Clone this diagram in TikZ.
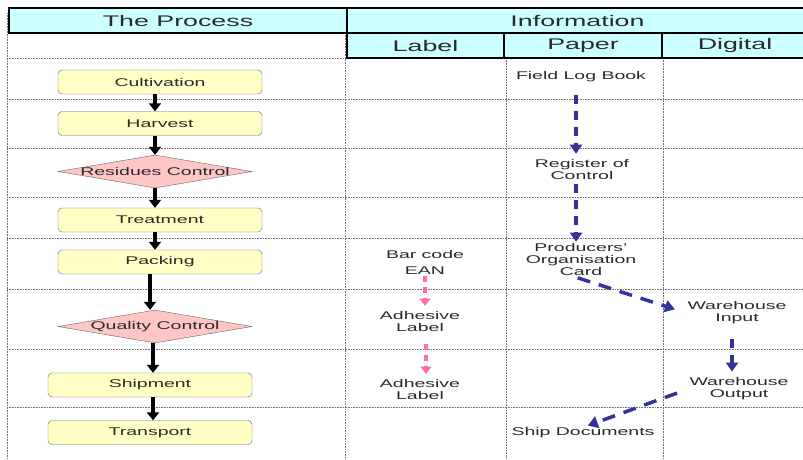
\documentclass[tikz,border=0pt]{standalone}
\usepackage{fontspec}
\setmainfont{Liberation Sans}[FakeStretch=1.74]
\usetikzlibrary{shapes.geometric,arrows.meta}
\definecolor{hdr}{HTML}{CCFFFF}
\definecolor{boxy}{HTML}{FFFFC6}
\definecolor{diap}{HTML}{FFC6C6}
\definecolor{navyarr}{HTML}{333399}
\definecolor{pinkarr}{HTML}{FF6F9F}
\definecolor{gridc}{HTML}{707070}
\definecolor{txt}{HTML}{2A2A2A}
\begin{document}
\begin{tikzpicture}[x=1pt,y=-1pt,
 hbox/.style={draw=black,line width=2pt,fill=hdr,inner sep=0,text=txt,font=\fontsize{15.4}{16}\selectfont},
 proc/.style={draw=gray!80!black, fill=boxy, rounded corners=4pt, minimum width=204pt, minimum height=24pt, inner sep=0, text=txt, font=\fontsize{11.2}{12}\selectfont},
 dia/.style={diamond, draw=gray!80!black, fill=diap, minimum width=194pt, minimum height=33pt, inner sep=0},
 dialab/.style={text=txt, font=\fontsize{11.2}{12}\selectfont},
 info/.style={align=center, inner sep=1pt, text=txt, font=\fontsize{11.2}{12}\selectfont},
 gridline/.style={gridc, densely dotted, line width=0.6pt},
 parr/.style={line width=3.6pt, -{Triangle[width=12pt,length=8pt]}},
 barr/.style={navyarr, line width=3.5pt, dash pattern=on 9pt off 7pt, -{Triangle[width=12pt,length=9pt]}},
 barrd/.style={navyarr, line width=3.5pt, dash pattern=on 13pt off 9pt, -{Triangle[width=12pt,length=10pt]}},
 karr/.style={pinkarr, line width=3.5pt, dash pattern=on 6pt off 5pt, -{Triangle[width=11pt,length=7pt]}}
]
\useasboundingbox (0,0) rectangle (803,459);
% grid
\draw[gridline] (7,13) -- (7,459);
\draw[gridline] (345,33) -- (345,459);
\draw[gridline] (506,58) -- (506,459);
\draw[gridline] (663,58) -- (663,459);
\foreach \yy in {58,99,148,197,238,289,349,407}
  \draw[gridline] (7,\yy) -- (803,\yy);
% headers
\node[hbox, minimum width=338pt, minimum height=25pt] (hproc) at (178,20.5) {The Process};
\node[hbox, minimum width=461pt, minimum height=25pt] (hinfo) at (577.5,20.5) {Information};
\node[hbox, minimum width=157pt, minimum height=25pt] (hlab) at (425.5,45.5) {Label};
\node[hbox, minimum width=158pt, minimum height=25pt] (hpap) at (583,45.5) {Paper};
\node[hbox, minimum width=146pt, minimum height=25pt] (hdig) at (735,45.5) {Digital};
% process
\node[proc] (cult) at (160,82) {Cultivation};
\node[proc] (harv) at (160,123.5) {Harvest};
\node[dia, label={[dialab]center:Residues Control}] (resid) at (155,171.5) {};
\node[proc] (treat) at (160,220) {Treatment};
\node[proc] (pack) at (160,262) {Packing};
\node[dia, label={[dialab]center:Quality Control}] (qual) at (155,326.5) {};
\node[proc] (ship) at (150,385) {Shipment};
\node[proc] (trans) at (150,432.5) {Transport};
\draw[parr] (cult.south -| resid.center) -- (harv.north -| resid.center);
\draw[parr] (harv.south -| resid.center) -- (resid.north);
\draw[parr] (resid.south) -- (treat.north -| resid.center);
\draw[parr] (treat.south -| resid.center) -- (pack.north -| resid.center);
\draw[parr] ([xshift=-5pt]pack.south -| qual.center) -- ([xshift=-5pt]qual.north);
\draw[parr] ([xshift=-2pt]qual.south) -- ([xshift=3pt]ship.north);
\draw[parr] ([xshift=3pt]ship.south) -- ([xshift=3pt]trans.north);
% information
\node[info] (field) at (581,77) {Field Log Book};
\node[info] (reg) at (582,169) {Register of\\Control};
\node[info] (prod) at (581,259) {Producers’\\Organisation\\Card};
\node[info] (bar) at (425,254) {Bar code};
\node[info] (ean) at (425,271) {EAN};
\node[info] (adh1) at (420,321) {Adhesive\\Label};
\node[info] (adh2) at (420,389) {Adhesive\\Label};
\node[info] (win) at (737,313) {Warehouse\\Input};
\node[info] (wout) at (739,389) {Warehouse\\Output};
\node[info] (sdoc) at (583,433) {Ship Documents};
\draw[barr, shorten <=12pt, shorten >=4pt] ([xshift=-5pt]field.south) -- ([xshift=-5pt]field.south |- reg.north);
\draw[barr, shorten <=4pt] ([xshift=-6pt]reg.south) -- ([xshift=-6pt]reg.south |- prod.north);
\draw[barrd, shorten <=5pt, shorten >=12pt] ([xshift=-8pt]prod.south) -- (win.west);
\draw[barr, shorten <=14pt, shorten >=5pt] ([xshift=-5pt]win.south) -- ([xshift=-5pt]win.south |- wout.north);
\draw[barrd, shorten <=12pt, shorten >=3pt] (wout.west) -- ([xshift=2pt]sdoc.north);
\draw[karr, shorten >=4pt] (ean.south) -- (ean.south |- adh1.north);
\draw[karr, shorten <=12pt, shorten >=4pt] ([xshift=6pt]adh1.south) -- ([xshift=6pt]adh1.south |- adh2.north);
\end{tikzpicture}
\end{document}
